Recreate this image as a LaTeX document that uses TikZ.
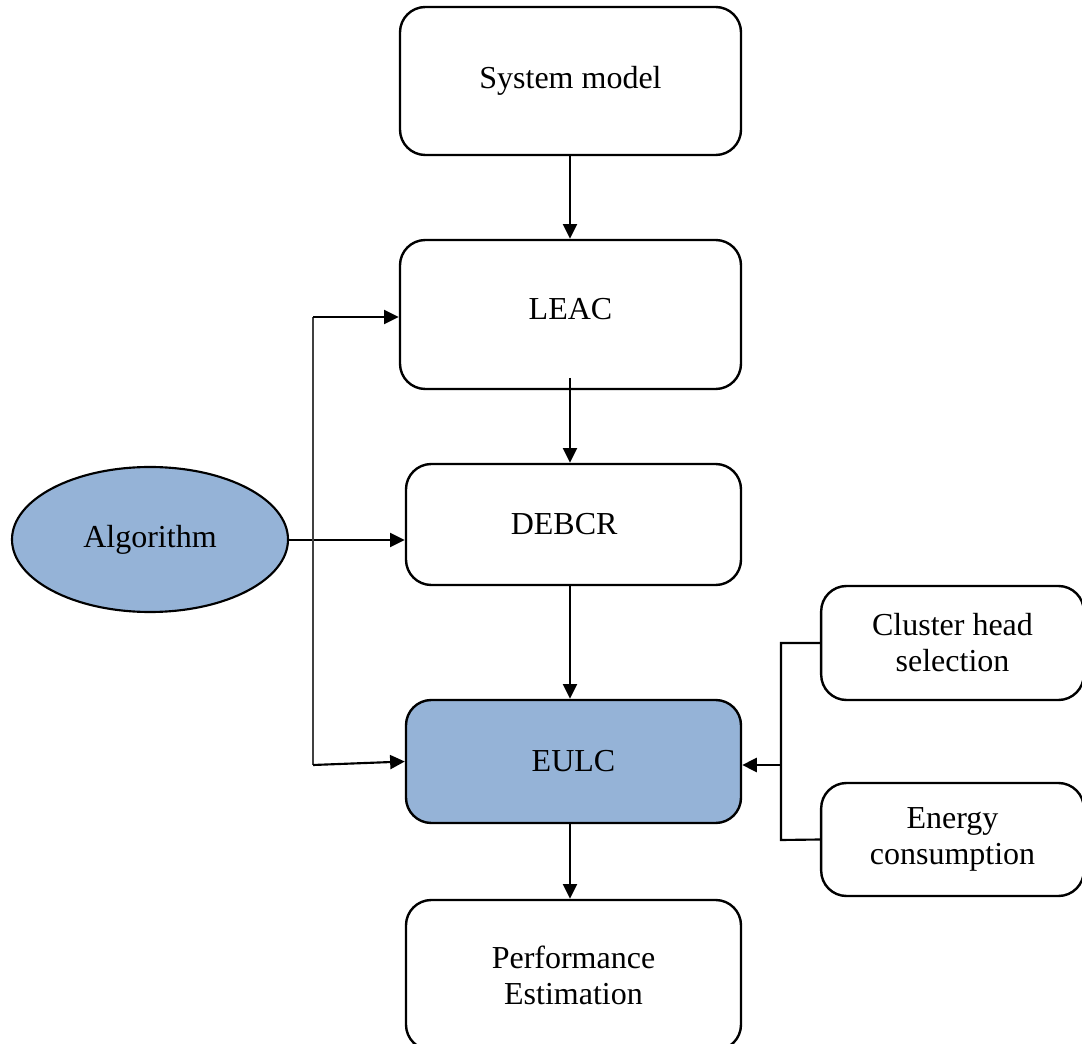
\documentclass[tikz,border=0pt]{standalone}
\usepackage{fontspec}
\setmainfont{Liberation Serif}
\usetikzlibrary{arrows.meta,shapes.geometric,calc}
\definecolor{boxblue}{HTML}{95B3D7}
\begin{document}
\begin{tikzpicture}[x=0.75pt,y=-0.75pt,
  box/.style={draw=black,line width=1.8pt,rounded corners=19pt,align=center,
    font=\fontsize{24}{27}\selectfont,inner sep=0pt},
  conn/.style={line width=1.6pt},
  arr/.style={conn,-{Triangle[length=11pt,width=10.5pt]}}]
\useasboundingbox (0,0) rectangle (1082,1044);
\node[box,minimum width=255.75pt,minimum height=111pt] (sys) at (570.5,81) {System model};
\node[box,minimum width=255.75pt,minimum height=111.75pt] (leac) at (570.5,314.5) {\raisebox{9pt}{LEAC}};
\node[box,minimum width=251.25pt,minimum height=90.75pt] (debcr) at (573.5,524.5) {\hspace*{-14pt}DEBCR};
\node[box,fill=boxblue,minimum width=251.25pt,minimum height=92.25pt] (eulc) at (573.5,761.5) {EULC};
\node[box,minimum width=251.25pt,minimum height=112.5pt] (perf) at (573.5,975) {Performance\\Estimation};
\node[box,minimum width=197pt,minimum height=85.5pt] (chs) at (952.5,643) {Cluster head\\selection};
\node[box,minimum width=197pt,minimum height=84.75pt] (energy) at (952.5,839.5) {Energy\\consumption};
\node[ellipse,draw=black,line width=1.6pt,fill=boxblue,minimum width=207pt,minimum height=108.75pt,
  font=\fontsize{24}{27}\selectfont,inner sep=0pt] (alg) at (150,539.5) {Algorithm};
% vertical chain
\draw[arr] (sys.south -| 570,0) -- (leac.north -| 570,0);
\coordinate (ls) at (570,378);
\draw[arr] (ls) -- (ls |- debcr.north);
\coordinate (ds) at (570,585);
\draw[arr] (ds) -- (ds |- eulc.north);
\draw[arr] (eulc.south -| 570,0) -- (perf.north -| 570,0);
% algorithm links
\coordinate (ae) at (288,540);
\draw[arr] (ae) -- (ae -| debcr.west);
\coordinate (lt) at (313,317);
\coordinate (lb) at (313,765);
\draw[line width=1.1pt,black!75] (lt) -- (lb);
\draw[arr] (lt) -- (lt -| leac.west);
\draw[arr] (lb) -- (eulc.west);
% right bracket
\coordinate (rt) at (781,643);
\coordinate (rb) at (781,840);
\coordinate (rm) at (781,765);
\draw[conn] (chs.west) -- (rt) -- (rb) -- (energy.west);
\draw[arr,line width=2.2pt] (rm) -- (rm -| eulc.east);
\end{tikzpicture}
\end{document}
